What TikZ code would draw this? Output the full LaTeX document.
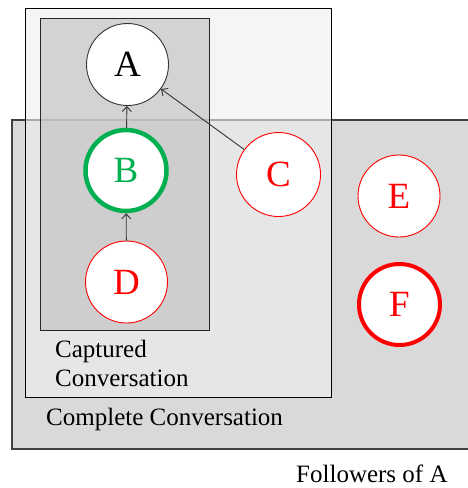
\documentclass[tikz,border=0pt]{standalone}
\usepackage{fontspec}
\setmainfont{Liberation Serif}
\usetikzlibrary{arrows.meta}
\definecolor{offgreen}{HTML}{00B050}
\begin{document}
\begin{tikzpicture}[x=1pt,y=-1pt,
  bubble/.style={circle,draw,fill=white,minimum size=82pt,inner sep=0pt,font=\fontsize{37}{40}\selectfont},
  redbubble/.style={bubble,draw=red,text=red,line width=0.9pt},
  link/.style={draw=black!80,line width=0.9pt,-{Straight Barb[length=5pt,width=9pt]}},
  lbl/.style={font=\fontsize{25}{29}\selectfont,inner sep=0pt,anchor=west,align=left}
]
\useasboundingbox (0,0) rectangle (467,488);
% Followers of A region
\path[fill=black!15] (12,120) rectangle (470,449);
\draw[black!75,line width=1.2pt] (470,120) -- (12,120) -- (12,449) -- (470,449);
% Complete conversation region
\path[fill={rgb,255:red,239;green,239;blue,239},fill opacity=0.6,draw=black,line width=1pt,draw opacity=1] (25,8) rectangle (331,397);
% Captured conversation region
\path[fill={rgb,255:red,195;green,195;blue,195},fill opacity=0.67,draw=black!85,line width=1pt,draw opacity=1] (40,18) rectangle (209,330);
% circles
\node[bubble,draw=black!80,line width=0.9pt] (A) at (127.5,64.5) {A};
\node[bubble,draw=offgreen,text=offgreen,line width=4.5pt,minimum size=81pt] (B) at (126,170.5) {B};
\node[redbubble,minimum size=84pt] (C) at (278.5,174.5) {C};
\node[redbubble] (D) at (126.5,282) {D};
\node[redbubble] (E) at (399,196) {E};
\node[bubble,draw=red,text=red,line width=4pt,minimum size=81pt] (F) at (399.5,304.5) {F};
% connectors
\draw[link] (B) -- (A);
\draw[link] (D) -- (B);
\draw[link] (C) -- (A);
% labels
\node[lbl] (cap) at (55,363) {Captured\\Conversation};
\node[lbl] (com) at (46,419) {Complete Conversation};
\node[lbl] (fol) at (296,474) {Followers of A};
\end{tikzpicture}
\end{document}
